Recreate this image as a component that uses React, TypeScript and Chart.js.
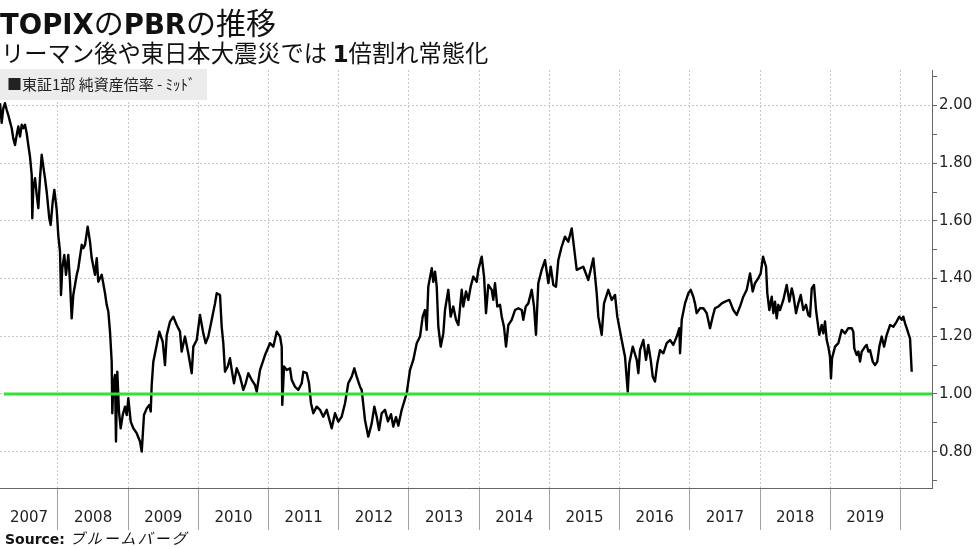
import React, { useEffect, useRef } from "react";
import { Chart, registerables } from "chart.js";

Chart.register(...registerables);

// Decimal-year dates of the PBR readings (TOPIX 1st section, mid)
const dates: number[] = [
  2007.174, 2007.198, 2007.221, 2007.245, 2007.269, 2007.292, 2007.316, 2007.341, 2007.363, 2007.388,
  2007.412, 2007.435, 2007.459, 2007.483, 2007.506, 2007.530, 2007.554, 2007.577, 2007.601, 2007.626,
  2007.634, 2007.648, 2007.673, 2007.697, 2007.720, 2007.744, 2007.768, 2007.791, 2007.815, 2007.839,
  2007.862, 2007.876, 2007.896, 2007.925, 2007.948, 2007.982, 2008.004, 2008.029, 2008.043, 2008.061,
  2008.090, 2008.114, 2008.147, 2008.171, 2008.195, 2008.218, 2008.267, 2008.289, 2008.338, 2008.361,
  2008.385, 2008.423, 2008.456, 2008.480, 2008.527, 2008.552, 2008.574, 2008.623, 2008.670, 2008.694,
  2008.717, 2008.741, 2008.765, 2008.774, 2008.788, 2008.812, 2008.826, 2008.845, 2008.869, 2008.893,
  2008.922, 2008.955, 2008.979, 2009.002, 2009.036, 2009.073, 2009.121, 2009.168, 2009.193, 2009.225,
  2009.264, 2009.301, 2009.321, 2009.335, 2009.358, 2009.406, 2009.443, 2009.492, 2009.524, 2009.549,
  2009.596, 2009.643, 2009.691, 2009.738, 2009.762, 2009.809,
  2009.856, 2009.905, 2009.928, 2009.976, 2010.023, 2010.070, 2010.104, 2010.141, 2010.190, 2010.237,
  2010.261, 2010.308, 2010.332, 2010.355, 2010.379, 2010.418, 2010.450, 2010.475, 2010.507, 2010.546,
  2010.593, 2010.640, 2010.674, 2010.711, 2010.759, 2010.806, 2010.831, 2010.878, 2010.949, 2011.020,
  2011.067, 2011.116, 2011.163, 2011.187, 2011.195, 2011.220, 2011.258, 2011.305, 2011.329, 2011.376,
  2011.423, 2011.472, 2011.495, 2011.543, 2011.576, 2011.604, 2011.637, 2011.685, 2011.732, 2011.779,
  2011.828, 2011.899, 2011.946, 2011.993, 2012.041, 2012.089, 2012.135, 2012.184, 2012.221, 2012.255,
  2012.302, 2012.326, 2012.373, 2012.420, 2012.469, 2012.506, 2012.540, 2012.573, 2012.611, 2012.658,
  2012.701, 2012.744, 2012.776, 2012.815, 2012.848,
  2012.896, 2012.967, 2013.014, 2013.061, 2013.110, 2013.157, 2013.195, 2013.228, 2013.252, 2013.275,
  2013.324, 2013.346, 2013.371, 2013.395, 2013.418, 2013.452, 2013.489, 2013.513, 2013.560, 2013.594,
  2013.631, 2013.670, 2013.703, 2013.751, 2013.774, 2013.812, 2013.845, 2013.879, 2013.916, 2013.965,
  2013.987, 2014.036, 2014.069, 2014.097, 2014.130, 2014.178, 2014.201, 2014.225, 2014.258, 2014.297,
  2014.321, 2014.353, 2014.382, 2014.415, 2014.463, 2014.510, 2014.557, 2014.606, 2014.628, 2014.663,
  2014.700, 2014.748, 2014.781, 2014.809, 2014.842, 2014.890, 2014.938, 2014.985, 2015.019, 2015.056,
  2015.094, 2015.127, 2015.175, 2015.222, 2015.269, 2015.318,
  2015.389, 2015.483, 2015.554, 2015.626, 2015.674, 2015.697, 2015.745, 2015.778, 2015.839, 2015.888,
  2015.935, 2015.967, 2016.030, 2016.077, 2016.116, 2016.138, 2016.187, 2016.244, 2016.267, 2016.291,
  2016.338, 2016.376, 2016.409, 2016.443, 2016.472, 2016.504, 2016.537, 2016.576, 2016.623, 2016.671,
  2016.718, 2016.765, 2016.814, 2016.851, 2016.861, 2016.885, 2016.932, 2016.979, 2017.013, 2017.050,
  2017.074, 2017.098, 2017.146, 2017.193, 2017.241, 2017.288, 2017.326, 2017.359, 2017.406, 2017.455,
  2017.502, 2017.563, 2017.620, 2017.668, 2017.715, 2017.762, 2017.811, 2017.858, 2017.896, 2017.929,
  2017.976, 2018.010, 2018.043,
  2018.086, 2018.104, 2018.133, 2018.167, 2018.190, 2018.214, 2018.238, 2018.261, 2018.285, 2018.332,
  2018.380, 2018.418, 2018.452, 2018.475, 2018.513, 2018.546, 2018.580, 2018.617, 2018.655, 2018.688,
  2018.712, 2018.737, 2018.769, 2018.798, 2018.816, 2018.845, 2018.879, 2018.902, 2018.926, 2018.950,
  2018.973, 2018.997, 2019.011, 2019.026, 2019.069, 2019.116, 2019.164, 2019.211, 2019.258, 2019.307,
  2019.329, 2019.343, 2019.378, 2019.401, 2019.425, 2019.449, 2019.496, 2019.520, 2019.543, 2019.567,
  2019.606, 2019.638, 2019.671, 2019.700, 2019.734, 2019.767, 2019.805, 2019.852, 2019.899, 2019.947,
  2019.984, 2020.019, 2020.041, 2020.066, 2020.090, 2020.113, 2020.137, 2020.161,
];

// Price-to-book ratio readings
const pbr: number[] = [
  2.008, 1.940, 1.990, 2.008, 1.985, 1.967, 1.944, 1.921, 1.886, 1.863,
  1.898, 1.927, 1.892, 1.933, 1.921, 1.933, 1.904, 1.863, 1.823, 1.759,
  1.609, 1.713, 1.748, 1.690, 1.644, 1.748, 1.829, 1.788, 1.748, 1.701,
  1.644, 1.609, 1.586, 1.667, 1.707, 1.638, 1.551, 1.493, 1.343, 1.435,
  1.482, 1.413, 1.482, 1.389, 1.262, 1.343, 1.413, 1.435, 1.517, 1.505,
  1.517, 1.580, 1.528, 1.471, 1.413, 1.471, 1.389, 1.413, 1.349, 1.309,
  1.286, 1.216, 1.112, 0.933, 1.031, 1.066, 0.835, 1.077, 0.939, 0.881,
  0.927, 0.956, 0.927, 0.985, 0.904, 0.881, 0.864, 0.835, 0.800, 0.927,
  0.950, 0.962, 0.939, 1.031, 1.112, 1.170, 1.216, 1.181, 1.100, 1.204,
  1.251, 1.268, 1.239, 1.216, 1.147, 1.199,
  1.141, 1.072, 1.164, 1.187, 1.274, 1.210, 1.176, 1.199, 1.257, 1.314,
  1.349, 1.343, 1.233, 1.176, 1.077, 1.095, 1.124, 1.083, 1.037, 1.089,
  1.060, 1.014, 1.037, 1.072, 1.049, 1.031, 1.008, 1.083, 1.135, 1.176,
  1.164, 1.216, 1.199, 1.164, 0.962, 1.095, 1.083, 1.089, 1.049, 1.025,
  1.014, 1.037, 1.077, 1.072, 1.037, 0.968, 0.933, 0.956, 0.945, 0.921,
  0.945, 0.881, 0.933, 0.904, 0.921, 0.968, 1.037, 1.060, 1.089, 1.060,
  1.025, 1.014, 0.910, 0.852, 0.898, 0.956, 0.921, 0.875, 0.933, 0.945,
  0.905, 0.930, 0.887, 0.920, 0.890,
  0.945, 1.002, 1.083, 1.118, 1.176, 1.199, 1.268, 1.291, 1.222, 1.372,
  1.436, 1.389, 1.424, 1.372, 1.233, 1.164, 1.210, 1.291, 1.361, 1.268,
  1.303, 1.257, 1.239, 1.361, 1.303, 1.355, 1.326, 1.372, 1.407, 1.389,
  1.430, 1.476, 1.407, 1.280, 1.378, 1.361, 1.326, 1.384, 1.303, 1.309,
  1.268, 1.233, 1.164, 1.239, 1.257, 1.291, 1.297, 1.291, 1.257, 1.303,
  1.314, 1.361, 1.303, 1.205, 1.384, 1.430, 1.464, 1.384, 1.441, 1.378,
  1.372, 1.464, 1.511, 1.545, 1.528, 1.574,
  1.430, 1.441, 1.395, 1.470, 1.349, 1.268, 1.205, 1.314, 1.361, 1.326,
  1.343, 1.268, 1.187, 1.129, 1.008, 1.106, 1.164, 1.118, 1.072, 1.152,
  1.187, 1.118, 1.170, 1.118, 1.060, 1.043, 1.106, 1.152, 1.141, 1.176,
  1.187, 1.170, 1.199, 1.228, 1.141, 1.257, 1.314, 1.349, 1.361, 1.337,
  1.314, 1.280, 1.297, 1.297, 1.280, 1.228, 1.268, 1.297, 1.303, 1.314,
  1.320, 1.326, 1.291, 1.274, 1.303, 1.337, 1.361, 1.418, 1.355, 1.384,
  1.401, 1.418, 1.476,
  1.441, 1.349, 1.291, 1.337, 1.280, 1.320, 1.262, 1.309, 1.291, 1.326,
  1.378, 1.320, 1.366, 1.343, 1.280, 1.314, 1.343, 1.291, 1.309, 1.274,
  1.268, 1.366, 1.378, 1.291, 1.257, 1.205, 1.239, 1.210, 1.251, 1.187,
  1.164, 1.129, 1.054, 1.124, 1.164, 1.176, 1.222, 1.210, 1.228, 1.228,
  1.216, 1.158, 1.135, 1.147, 1.112, 1.147, 1.164, 1.170, 1.147, 1.152,
  1.112, 1.100, 1.112, 1.164, 1.199, 1.164, 1.205, 1.239, 1.233, 1.251,
  1.268, 1.257, 1.268, 1.245, 1.228, 1.210, 1.193, 1.077,
];

// Reference level (PBR = 1)
const refLevel = 1.0;
const refStart = 2007.23;

// Axis range
const xMin = 2007.174;
const xMax = 2020.45;
const yMin = 0.674;
const yMax = 2.123;

// X axis: year labels (placed mid-year) and year boundaries
const yearLabels = ["2007", "2008", "2009", "2010", "2011", "2012", "2013", "2014", "2015", "2016", "2017", "2018", "2019"];
const yearLabelPos = [2007.587, 2008.5, 2009.5, 2010.5, 2011.5, 2012.5, 2013.5, 2014.5, 2015.5, 2016.5, 2017.5, 2018.5, 2019.5];
const yearBoundaries = [2008, 2009, 2010, 2011, 2012, 2013, 2014, 2015, 2016, 2017, 2018, 2019, 2020];

// Y axis: labelled ticks and minor ticks
const yLabelTicks = [0.8, 1.0, 1.2, 1.4, 1.6, 1.8, 2.0];
const yMinorTicks = [0.7, 0.9, 1.1, 1.3, 1.5, 1.7, 1.9, 2.1];

const FONT = "'DejaVu Sans', Verdana, sans-serif";
const CJK = "'Noto Sans CJK JP', sans-serif";

export default function App() {
  const ref = useRef<HTMLCanvasElement>(null);

  useEffect(() => {
    if (!ref.current) return;
    const series = dates.map((d, i) => ({ x: d, y: pbr[i] }));
    const refLine = [
      { x: refStart, y: refLevel },
      { x: xMax, y: refLevel },
    ];
    const xTicks = [...yearLabelPos, ...yearBoundaries].sort((a, b) => a - b);
    const yTicks = [...yLabelTicks, ...yMinorTicks].sort((a, b) => a - b);
    const isBoundary = (v: number) => yearBoundaries.some((b) => Math.abs(b - v) < 1e-6);
    const isYLabel = (v: number) => yLabelTicks.some((b) => Math.abs(b - v) < 1e-6);

    const chart = new Chart(ref.current, {
      type: "line",
      data: {
        datasets: [
          {
            data: refLine,
            borderColor: "#33e033",
            borderWidth: 3,
            pointRadius: 0,
            tension: 0,
          },
          {
            data: series,
            borderColor: "#000000",
            borderWidth: 2.4,
            pointRadius: 0,
            tension: 0,
            borderJoinStyle: "round",
          },
        ],
      },
      options: {
        animation: false,
        responsive: false,
        layout: { padding: { top: 70, left: 0, right: 0, bottom: 0 } },
        plugins: {
          legend: { display: false },
          tooltip: { enabled: false },
          title: { display: false },
        },
        scales: {
          x: {
            type: "linear",
            position: "bottom",
            min: xMin,
            max: xMax,
            afterBuildTicks: (s: any) => {
              s.ticks = xTicks.map((v) => ({ value: v }));
            },
            afterFit: (s: any) => {
              s.height = 61;
            },
            ticks: {
              autoSkip: false,
              maxRotation: 0,
              minRotation: 0,
              padding: -21,
              color: "#222222",
              font: { family: FONT, size: 15 },
              callback: (v: any) => {
                const idx = yearLabelPos.findIndex((p) => Math.abs(p - Number(v)) < 1e-6);
                return idx >= 0 ? yearLabels[idx] : "";
              },
            },
            grid: {
              color: (ctx: any) => (ctx.tick && isBoundary(ctx.tick.value) ? "#c8c8c8" : "rgba(0,0,0,0)"),
              tickColor: (ctx: any) => (ctx.tick && isBoundary(ctx.tick.value) ? "#a0a0a0" : "rgba(0,0,0,0)"),
              tickLength: 42,
              lineWidth: 1,
            },
            border: { display: true, color: "#666666", width: 1, dash: [2, 2] },
          },
          y: {
            type: "linear",
            position: "right",
            min: yMin,
            max: yMax,
            afterBuildTicks: (s: any) => {
              s.ticks = yTicks.map((v) => ({ value: v }));
            },
            afterFit: (s: any) => {
              s.width = 45;
            },
            ticks: {
              padding: 2,
              color: "#222222",
              font: { family: FONT, size: 15 },
              callback: (v: any) => (isYLabel(Number(v)) ? Number(v).toFixed(2) : ""),
            },
            grid: {
              color: (ctx: any) => (ctx.tick && isYLabel(ctx.tick.value) ? "#c8c8c8" : "rgba(0,0,0,0)"),
              tickColor: "#666666",
              tickLength: 5,
              lineWidth: 1,
            },
            border: { display: true, color: "#666666", width: 1, dash: [2, 2] },
          },
        },
      },
    });
    return () => chart.destroy();
  }, []);

  return (
    <div style={{ position: "absolute", left: 0, top: 0, width: 977, height: 549, background: "#ffffff", overflow: "hidden" }}>
      <canvas ref={ref} width={977} height={549} style={{ position: "absolute", left: 0, top: 0, width: 977, height: 549 }} />
      <div
        style={{
          position: "absolute",
          left: 0,
          top: 3,
          height: 36,
          lineHeight: "36px",
          whiteSpace: "nowrap",
          color: "#111111",
          fontFamily: FONT,
        }}
      >
        <span style={{ fontFamily: FONT, fontWeight: "bold", fontSize: 27.5 }}>TOPIX</span>
        <span style={{ fontFamily: CJK, fontSize: 30 }}>の</span>
        <span style={{ fontFamily: FONT, fontWeight: "bold", fontSize: 27.5 }}>PBR</span>
        <span style={{ fontFamily: CJK, fontSize: 30 }}>の推移</span>
      </div>
      <div
        style={{
          position: "absolute",
          left: 1,
          top: 37,
          height: 30,
          lineHeight: "30px",
          whiteSpace: "nowrap",
          color: "#111111",
          fontFamily: CJK,
          fontSize: 23.3,
        }}
      >
        <span>リーマン後や東日本大震災では </span>
        <span style={{ fontFamily: FONT, fontWeight: "bold" }}>1</span>
        <span>倍割れ常態化</span>
      </div>
      <div
        style={{
          position: "absolute",
          left: 0,
          top: 69,
          width: 207,
          height: 31,
          lineHeight: "29px",
          background: "#ececec",
          whiteSpace: "nowrap",
          color: "#222222",
          fontFamily: CJK,
          fontSize: 15,
          paddingLeft: 7,
          boxSizing: "border-box",
        }}
      >
        ■東証1部 純資産倍率 - ﾐｯﾄﾞ
      </div>
      <div
        style={{
          position: "absolute",
          left: 5,
          top: 528,
          height: 20,
          lineHeight: "20px",
          whiteSpace: "nowrap",
          color: "#111111",
        }}
      >
        <span style={{ fontFamily: FONT, fontWeight: "bold", fontSize: 14 }}>Source: </span>
        <span style={{ fontFamily: CJK, fontSize: 15, fontStyle: "italic", letterSpacing: 2 }}>ブルームバーグ</span>
      </div>
    </div>
  );
}
